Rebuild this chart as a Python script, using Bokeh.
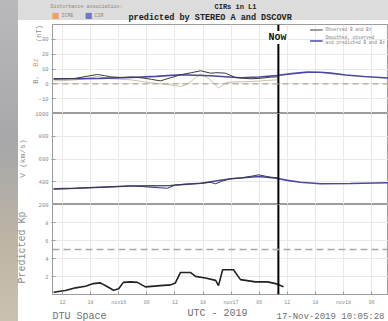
import math
from bokeh.plotting import figure
from bokeh.layouts import column
from bokeh.models import Range1d, FixedTicker, Span, Label, Legend, LegendItem
from bokeh.embed import file_html
from bokeh.resources import INLINE

# ---------------- data (time = hours since 2019-11-15 00:00 UTC) ----------------
now_hour = 58.09  # 17-Nov-2019 10:05:28

x_ticks = [12, 18, 24, 30, 36, 42, 48, 54, 60, 66, 72, 78]
x_tick_labels = ["12", "18", "nov16", "06", "12", "18", "nov17", "06", "12", "18", "nov18", "06"]

b_ticks = [-10, 0, 10, 20, 30]
v_ticks = [200, 400, 600, 800, 1000]
kp_ticks = [2, 4, 6, 8]

b_obs_t = [10.1, 12.5, 14.8, 17.0, 19.5, 21.0, 22.3, 24.5, 26.5, 29.0, 31.0, 32.9, 35.0,
           37.2, 39.5, 41.5, 43.6, 45.0, 46.8, 48.9, 50.5, 52.2, 54.5, 56.4, 57.9]
b_obs = [3.2, 3.4, 3.7, 5.0, 6.3, 5.5, 4.7, 4.3, 4.7, 4.0, 3.0, 2.0, 4.0,
         6.1, 7.5, 8.8, 7.2, 7.5, 7.2, 4.3, 3.8, 3.4, 3.8, 4.5, 4.7]

bz_obs_t = [10.1, 13.0, 16.0, 19.5, 22.0, 26.5, 29.0, 30.8, 34.0, 36.0, 37.2, 38.5,
            40.0, 41.5, 43.0, 44.0, 45.3, 46.8, 48.5, 50.0, 52.0, 54.3, 56.0, 57.9]
bz_obs = [2.0, 2.3, 3.0, 5.0, 3.5, 2.7, 1.6, 0.7, -0.2, -1.2, -1.8, -0.5,
          3.0, 6.8, 4.0, 1.6, -2.9, 0.7, 1.2, 1.4, 1.5, 2.0, 2.3, 2.7]

b_smooth_t = [10.1, 15.0, 20.1, 26.5, 32.0, 37.2, 43.6, 50.0, 54.0, 57.7, 61.0, 64.3,
              67.0, 69.2, 72.5, 76.3, 81.6]
b_smooth = [3.4, 3.5, 3.7, 4.3, 5.0, 6.1, 5.4, 4.1, 4.6, 5.6, 6.9, 7.9,
            7.8, 7.2, 6.0, 4.9, 3.9]

v_obs_t = [10.1, 12.5, 15.8, 19.0, 22.3, 24.5, 26.5, 29.0, 31.5, 34.4, 36.1, 38.5,
           41.5, 43.6, 44.7, 46.0, 47.9, 50.0, 51.1, 52.5, 53.9, 55.4, 56.5, 57.9]
v_obs = [335, 338, 345, 350, 355, 359, 364, 358, 350, 343, 372, 380,
         385, 395, 382, 405, 426, 433, 440, 450, 461, 448, 440, 435]

v_smooth_t = [10.1, 15.0, 20.1, 26.5, 31.0, 35.1, 41.5, 47.9, 53.9, 57.7, 60.0, 62.8,
              67.1, 73.5, 81.6]
v_smooth = [338, 343, 352, 362, 365, 367, 387, 426, 446, 431, 412, 396,
            382, 385, 391]

kp_t = [10.1, 12.6, 14.8, 16.9, 18.6, 20.1, 21.8, 22.9, 24.0, 25.0, 26.5, 28.0, 29.7,
        32.9, 35.1, 36.1, 37.2, 39.3, 40.4, 42.5, 44.7, 45.3, 46.2, 48.5, 50.0, 53.2,
        55.8, 57.7, 59.2]
kp = [0.25, 0.44, 0.74, 0.91, 1.21, 1.29, 0.80, 0.47, 0.63, 1.35, 1.40, 1.35, 0.85,
      0.99, 1.07, 1.29, 2.45, 2.45, 2.01, 1.84, 1.57, 0.99, 2.75, 2.75, 1.65, 1.40,
      1.40, 1.18, 0.85]

bz_reference_level = 0
kp_storm_level = 5

# ---------------- styling / layout ----------------
FONT = "Liberation Mono"
W, H = 388, 321
H1, H2, H3 = 113, 91, 117
FRAME_LEFT = 52
GRID = "#e9e9e9"
FRAME_C = "#9c9c9c"
TICK_C = "#8a8a8a"
BLUE = "#4848a2"

# panel 2 (V) frame, used to place its two edge tick labels
V_RANGE = (200, 1000)
V_FRAME_TOP, V_FRAME_H = 113, 91

x_range = Range1d(9.87, 81.6)


def make_fig(h, y_range, yticks, top=0, bottom=0, x_axis=False):
    p = figure(width=W, height=h, x_range=x_range, y_range=y_range,
               output_backend="svg", toolbar_location=None,
               x_axis_location="below" if x_axis else None,
               min_border_left=FRAME_LEFT, min_border_right=0,
               min_border_top=top, min_border_bottom=bottom,
               background_fill_color="white", border_fill_color=None,
               outline_line_color=FRAME_C, outline_line_width=1)
    ax = p.yaxis[0]
    ax.ticker = FixedTicker(ticks=yticks)
    ax.axis_line_color = FRAME_C
    ax.major_tick_line_color = FRAME_C
    ax.major_tick_in = 3
    ax.major_tick_out = 1
    ax.minor_tick_line_color = None
    ax.major_label_text_font = FONT
    ax.major_label_text_font_size = "5.5px"
    ax.major_label_text_color = TICK_C
    ax.major_label_standoff = 3
    p.xgrid.ticker = FixedTicker(ticks=x_ticks)
    p.xgrid.grid_line_color = GRID
    p.ygrid.grid_line_color = GRID
    if x_axis:
        xa = p.xaxis[0]
        xa.ticker = FixedTicker(ticks=x_ticks)
        xa.major_label_overrides = {t: l for t, l in zip(x_ticks, x_tick_labels)}
        xa.axis_line_color = FRAME_C
        xa.major_tick_line_color = FRAME_C
        xa.major_tick_in = 3
        xa.major_tick_out = 0
        xa.minor_tick_line_color = None
        xa.major_label_text_font = FONT
        xa.major_label_text_font_size = "5px"
        xa.major_label_text_color = TICK_C
        xa.major_label_standoff = 5
    p.add_layout(Span(location=now_hour, dimension="height", line_color="black", line_width=2))
    return p


# ---------------- panel 1: B, Bz ----------------
p1 = make_fig(H1, Range1d(-20, 40), b_ticks, top=24)
p1.add_layout(Span(location=bz_reference_level, dimension="width", line_color="#b5a78f",
                   line_dash="6 4", line_width=1.2))
p1.line(bz_obs_t, bz_obs, line_color="#c9bfae", line_width=1)
r_bsm = p1.line(b_smooth_t, b_smooth, line_color=BLUE, line_width=1.6)
r_bobs = p1.line(b_obs_t, b_obs, line_color="#3a3a3a", line_width=1)

legend = Legend(items=[LegendItem(label="Observed B and Bz", renderers=[r_bobs]),
                       LegendItem(label="Smoothed, observed\nand predicted B and Bz", renderers=[r_bsm])],
                location="top_right", background_fill_alpha=0, border_line_color=None,
                label_text_font=FONT, label_text_font_size="4.5px", label_text_color="#888888",
                glyph_width=13, glyph_height=5, label_standoff=3, spacing=3, padding=2, margin=3,
                label_height=5)
p1.add_layout(legend)

# ---------------- panel 2: V ----------------
p2 = make_fig(H2, Range1d(*V_RANGE), [t for t in v_ticks if V_RANGE[0] < t < V_RANGE[1]])
p2.line(v_smooth_t, v_smooth, line_color=BLUE, line_width=1.6)
p2.line(v_obs_t, v_obs, line_color="#3a3a3a", line_width=1)

# ---------------- panel 3: predicted Kp ----------------
p3 = make_fig(H3, Range1d(0, 10), kp_ticks, bottom=27, x_axis=True)
p3.add_layout(Span(location=kp_storm_level, dimension="width", line_color="#a9a9a9",
                   line_dash="7 4", line_width=1.6))
p3.line(kp_t, kp, line_color="#222222", line_width=1.6)

# ---------------- transparent overlay for the texts around the panels ----------------
ov = figure(width=W, height=H, x_range=Range1d(0, W), y_range=Range1d(0, H),
            output_backend="svg", toolbar_location=None,
            x_axis_location=None, y_axis_location=None, min_border=0,
            background_fill_color=None, border_fill_color=None, outline_line_color=None,
            margin=(-H, 0, 0, 0), frame_align=False)
ov.grid.visible = False


def txt(ax, ay, text, size, color="#777777", bold=False, align="left", angle=0.0,
        font=FONT, bg=None):
    lab = Label(x=ax, y=H - ay, x_units="screen", y_units="screen",
                text=text, text_font=font, text_font_size=f"{size}px", text_color=color,
                text_font_style="bold" if bold else "normal", text_align=align,
                text_baseline="middle", angle=angle)
    if bg:
        lab.background_fill_color = bg
        lab.padding = 1
    ov.add_layout(lab)


txt(50, 6, "Disturbance association:", 5, color="#888888")
txt(214, 6.5, "CIRs in L1", 7, color="#222222", bold=True)
txt(55, 15, "\u25a0", 8, color="#f0a060", align="center", font="DejaVu Sans")
txt(61, 15, "ICME", 5, color="#888888")
txt(88, 15, "\u25a0", 8, color="#6f78c8", align="center", font="DejaVu Sans")
txt(94, 15, "CIR", 5, color="#888888")
txt(128, 17, "predicted by STEREO A and DSCOVR", 8.5, color="#222222", bold=True)
txt(277, 37, "Now", 10, color="#111111", bold=True, align="center", bg="white")
txt(35, 79, "B,", 7, color="#8a8a8a", align="center", angle=math.pi / 2)
txt(35, 62, "Bz", 7, color="#e0a070", align="center", angle=math.pi / 2)
txt(38, 33, "(nT)", 7, color="#8a8a8a", align="center", angle=math.pi / 2)
txt(22, 158, "V (km/s)", 8, color="#8a8a8a", align="center", angle=math.pi / 2)
txt(22, 247, "Predicted Kp", 10, color="#8a8a8a", align="center", angle=math.pi / 2)
for t in v_ticks:
    if t in V_RANGE:
        y_abs = V_FRAME_TOP + (V_RANGE[1] - t) / (V_RANGE[1] - V_RANGE[0]) * V_FRAME_H
        txt(FRAME_LEFT - 4, y_abs, str(t), 5.5, color=TICK_C, align="right")
txt(52, 316, "DTU Space", 10, color="#6f6f6f")
txt(187, 313, "UTC  -  2019", 10, color="#6f6f6f")
txt(276, 316, "17-Nov-2019 10:05:28", 9, color="#6f6f6f")

layout = column(p1, p2, p3, ov, spacing=0, styles={
    "background": "linear-gradient(to bottom, #b9b9bb, #a7a7a9 45%, #bdb4a4 75%, #c9c1b2) left top / 18px 100% no-repeat, "
                  "linear-gradient(#dcdcdc, #dcdcdc) left top / 100% 20px no-repeat, #ffffff"})

open("out.html", "w").write(file_html(layout, INLINE))
